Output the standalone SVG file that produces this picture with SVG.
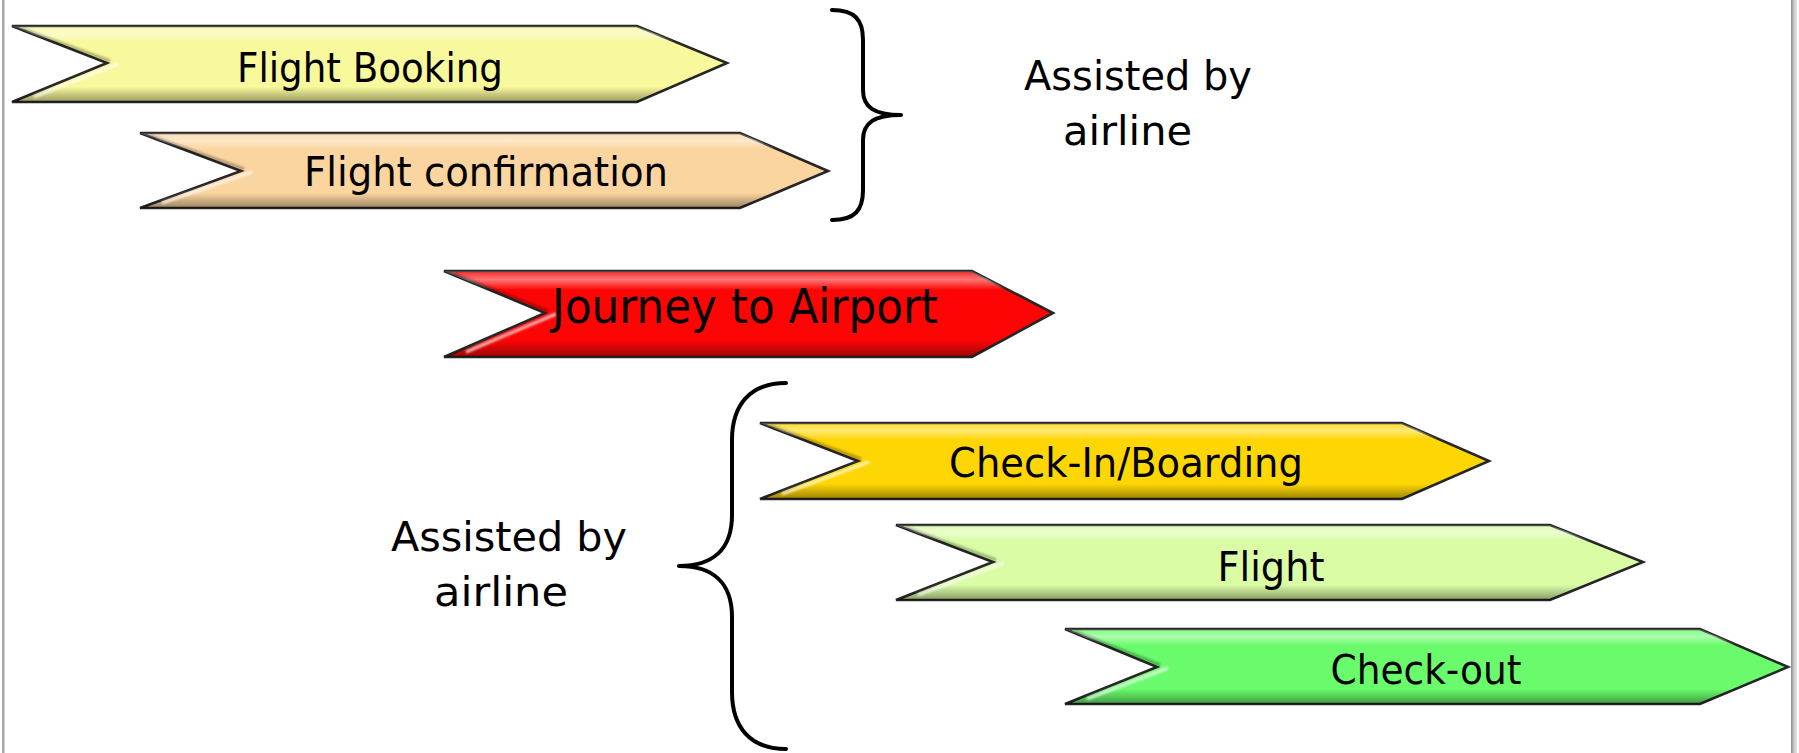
<svg xmlns="http://www.w3.org/2000/svg" width="1799" height="753" viewBox="0 0 1799 753">
  <defs>
    <linearGradient id="shade" x1="0" y1="0" x2="0" y2="1">
      <stop offset="0" stop-color="#ffffff" stop-opacity="0.15"/>
      <stop offset="0.1" stop-color="#ffffff" stop-opacity="0.45"/>
      <stop offset="0.22" stop-color="#ffffff" stop-opacity="0"/>
      <stop offset="0.8" stop-color="#000000" stop-opacity="0"/>
      <stop offset="1" stop-color="#000000" stop-opacity="0.38"/>
    </linearGradient>
    <linearGradient id="rborder" x1="0" y1="0" x2="1" y2="0">
      <stop offset="0" stop-color="#8c8c8c"/>
      <stop offset="0.5" stop-color="#c8c8c8"/>
      <stop offset="1" stop-color="#e6e6e6"/>
    </linearGradient>
    <filter id="soft" x="-5%" y="-20%" width="110%" height="140%">
      <feGaussianBlur stdDeviation="1.2"/>
    </filter>
  </defs>
  <style>
    .arrow { stroke: #262626; stroke-width: 2.6; stroke-linejoin: miter; }
    .shade { fill: url(#shade); stroke: none; }
    .hl { fill: none; stroke: #ffffff; stroke-opacity: 0.7; stroke-width: 3; filter: url(#soft); }
    .dk { fill: none; stroke: #000000; stroke-opacity: 0.3; stroke-width: 3; filter: url(#soft); }
    .lbl { font-family: "DejaVu Sans", "Liberation Sans", sans-serif; font-size: 41px; fill: #000; text-anchor: middle; }
    .big { font-size: 48px; }
    .note { font-family: "DejaVu Sans", "Liberation Sans", sans-serif; font-size: 41px; fill: #000; }
    .brace { fill: none; stroke: #000; stroke-width: 4; stroke-linecap: round; stroke-linejoin: round; }
  </style>

  <rect x="0" y="0" width="1799" height="753" fill="#ffffff"/>
  <rect x="2" y="0" width="2.5" height="753" fill="#a8a8a8"/>
  <rect x="1791" y="0" width="6" height="753" fill="url(#rborder)"/>

  <g id="flight-booking">
    <path class="arrow" fill="#f8f89c" d="M12 26 L637 26 L727 63 L637 102 L12 102 L107 63 Z"/>
    <path class="shade" d="M12 26 L637 26 L727 63 L637 102 L12 102 L107 63 Z"/>
    <polyline class="dk" points="22,29 110,61"/>
    <polyline class="hl" points="34,97 118,64"/>
    <text class="lbl" x="370" y="82" textLength="266" lengthAdjust="spacingAndGlyphs">Flight Booking</text>
  </g>

  <g id="flight-confirmation">
    <path class="arrow" fill="#fbd59f" d="M140 133 L740 133 L828 171 L740 208 L140 208 L241 171 Z"/>
    <path class="shade" d="M140 133 L740 133 L828 171 L740 208 L140 208 L241 171 Z"/>
    <polyline class="dk" points="150,136 244,169"/>
    <polyline class="hl" points="162,203 252,172"/>
    <text class="lbl" x="486" y="186" textLength="364" lengthAdjust="spacingAndGlyphs">Flight confirmation</text>
  </g>

  <g id="journey">
    <path class="arrow" fill="#fe0505" d="M444 271 L972 271 L1053 313 L972 357 L444 357 L545 313 Z"/>
    <path class="shade" d="M444 271 L972 271 L1053 313 L972 357 L444 357 L545 313 Z"/>
    <polyline class="dk" points="454,274 548,311"/>
    <polyline class="hl" points="466,352 556,314"/>
    <text class="lbl big" x="745" y="323" textLength="386" lengthAdjust="spacingAndGlyphs">Journey to Airport</text>
  </g>

  <g id="check-in">
    <path class="arrow" fill="#fed604" d="M760 423 L1402 423 L1489 461 L1402 499 L760 499 L858 461 Z"/>
    <path class="shade" d="M760 423 L1402 423 L1489 461 L1402 499 L760 499 L858 461 Z"/>
    <polyline class="dk" points="770,426 861,459"/>
    <polyline class="hl" points="782,494 869,462"/>
    <text class="lbl" x="1126" y="477" textLength="354" lengthAdjust="spacingAndGlyphs">Check-In/Boarding</text>
  </g>

  <g id="flight">
    <path class="arrow" fill="#d9fca5" d="M896 525 L1550 525 L1643 562 L1550 600 L896 600 L993 562 Z"/>
    <path class="shade" d="M896 525 L1550 525 L1643 562 L1550 600 L896 600 L993 562 Z"/>
    <polyline class="dk" points="906,528 996,560"/>
    <polyline class="hl" points="918,595 1004,563"/>
    <text class="lbl" x="1271" y="581" textLength="107" lengthAdjust="spacingAndGlyphs">Flight</text>
  </g>

  <g id="check-out">
    <path class="arrow" fill="#69fb6b" d="M1065 629 L1700 629 L1788 667 L1700 704 L1065 704 L1157 667 Z"/>
    <path class="shade" d="M1065 629 L1700 629 L1788 667 L1700 704 L1065 704 L1157 667 Z"/>
    <polyline class="dk" points="1075,632 1160,665"/>
    <polyline class="hl" points="1087,699 1168,668"/>
    <text class="lbl" x="1426" y="684" textLength="191" lengthAdjust="spacingAndGlyphs">Check-out</text>
  </g>

  <g id="connectors">
    <path id="brace-top" class="brace" d="M832 10 C855 10 863 20 863 40 L863 90 C863 107 874 115 901 115 C874 115 863 123 863 140 L863 190 C863 210 855 220 832 220"/>
    <path id="brace-bottom" class="brace" d="M786 383 C750 383 732 405 732 440 L732 515 C732 550 712 566 679 566 C712 566 732 582 732 617 L732 692 C732 727 750 749 786 749"/>
  </g>

  <g id="label-top">
    <text class="note" x="1024" y="90" textLength="228" lengthAdjust="spacingAndGlyphs">Assisted by</text>
    <text class="note" x="1063" y="145" textLength="129" lengthAdjust="spacingAndGlyphs">airline</text>
  </g>
  <g id="label-bottom">
    <text class="note" x="391" y="551" textLength="236" lengthAdjust="spacingAndGlyphs">Assisted by</text>
    <text class="note" x="434" y="606" textLength="134" lengthAdjust="spacingAndGlyphs">airline</text>
  </g>
</svg>
